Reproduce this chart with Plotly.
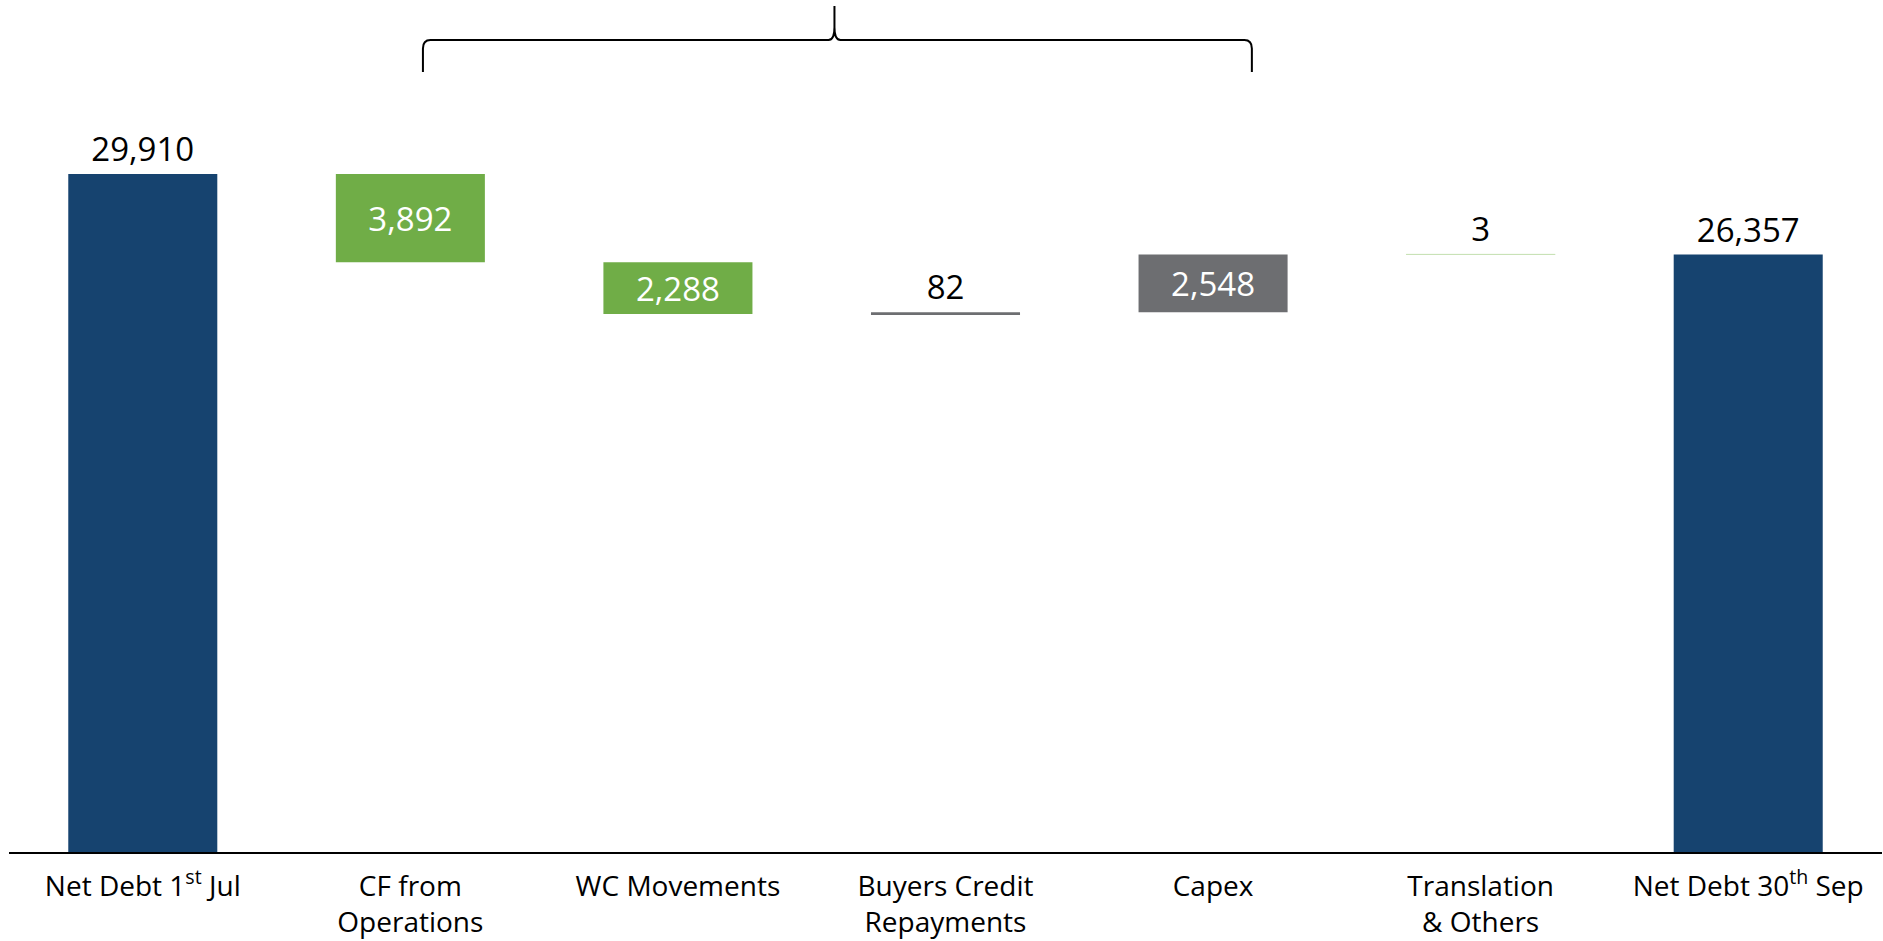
import plotly.graph_objects as go

categories = ["Net Debt 1<sup>st</sup> Jul", "CF from<br>Operations", "WC Movements",
              "Buyers Credit<br>Repayments", "Capex", "Translation<br>& Others",
              "Net Debt 30<sup>th</sup> Sep"]
measures = ["absolute", "relative", "relative", "relative", "relative", "relative", "total"]
values = [29910, -3892, -2288, 82, 2548, 3, 26357]
bar_colors = ["#16436F", "#70AD47", "#70AD47", "#6D6E71", "#6D6E71", "#C9E2B8", "#16436F"]
text_colors = ["black", "white", "white", "black", "white", "black", "black"]
text_positions = ["outside", "inside", "inside", "outside", "inside", "outside", "outside"]

# running waterfall geometry
bases, heights = [], []
running = 0
for m, v in zip(measures, values):
    if m == "absolute":
        bases.append(0); heights.append(v); running = v
    elif m == "total":
        bases.append(0); heights.append(v); running = v
    else:
        bases.append(running + min(v, 0)); heights.append(abs(v)); running += v

labels = [f"{abs(v):,}" for v in values]
xpos = list(range(len(categories)))
line_widths = [1 if h < 20 else 0 for h in heights]

fig = go.Figure()
fig.add_trace(go.Bar(
    x=xpos, y=heights, base=bases,
    marker=dict(color=bar_colors, line=dict(color=bar_colors, width=line_widths)),
    text=labels, textposition=text_positions,
    insidetextanchor="middle",
    textfont=dict(family="Open Sans", size=33, color=text_colors),
    cliponaxis=False,
    hoverinfo="skip",
))

# brace above the operating items
L, T, R = 1.047, 2.585, 4.145
yb, yh, yt = 0.9155, 0.9531, 0.993
dx, dy = 0.028, 0.010
brace = (f"M {L},{yb} L {L},{yh-dy} Q {L},{yh} {L+dx},{yh} "
         f"L {T-dx*0.8},{yh} Q {T},{yh} {T},{yh+dy*1.5} L {T},{yt} "
         f"M {T},{yh+dy*1.5} Q {T},{yh} {T+dx*0.8},{yh} "
         f"L {R-dx},{yh} Q {R},{yh} {R},{yh-dy} L {R},{yb}")
fig.add_shape(type="path", path=brace, xref="x", yref="paper",
              line=dict(color="black", width=2))

fig.update_layout(
    width=1883, height=941,
    margin=dict(l=9, r=1, t=0, b=89),
    plot_bgcolor="white", paper_bgcolor="white",
    bargap=0.443,
    showlegend=False,
    uniformtext=dict(mode="show", minsize=33),
    font=dict(family="Open Sans", color="black"),
)
fig.update_xaxes(
    range=[-0.5, 6.5], tickvals=xpos, ticktext=categories,
    showline=True, linecolor="black", linewidth=2,
    showgrid=False, zeroline=False, ticks="",
    ticklabelstandoff=8,
    tickfont=dict(family="Open Sans", size=28, color="black"),
)
fig.update_yaxes(range=[0, 37586], visible=False, showgrid=False, zeroline=False)

fig.write_html("out.html")
